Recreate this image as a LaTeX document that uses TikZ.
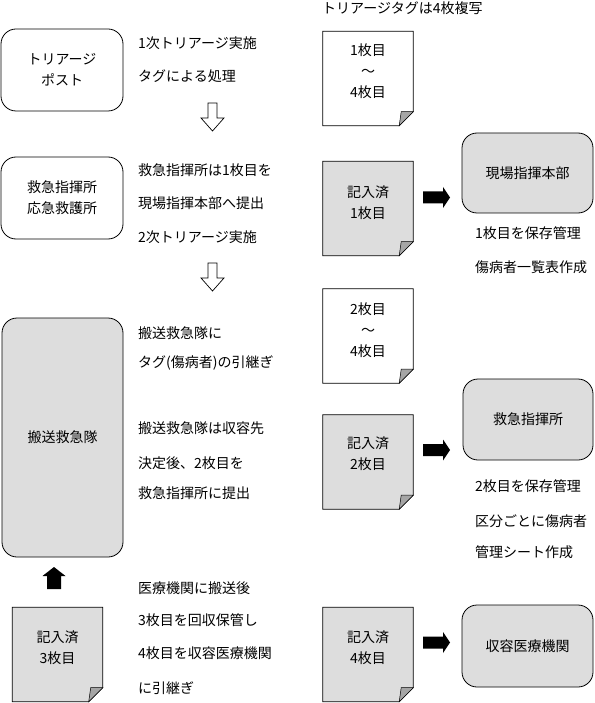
\documentclass[tikz,border=0pt]{standalone}
\usepackage{fontspec}
\setmainfont{Noto Sans CJK JP}
\definecolor{tagfill}{RGB}{221,221,221}
\definecolor{foldfill}{RGB}{165,165,165}

\begin{document}
\begin{tikzpicture}[x=1pt,y=-1pt,
    font=\fontsize{14}{21}\selectfont,
    station/.style={draw,line width=.8pt,rounded corners=15pt,align=center,
      minimum width=122pt,minimum height=82pt,inner sep=0pt},
    sheet/.style={minimum width=90pt,minimum height=94pt,inner sep=0pt},
    remark/.style={anchor=west,inner sep=0pt},
    hollow/.style={draw,fill=white,line width=.7pt},
    blockarrow/.style={fill=black}]
  \useasboundingbox (0,0) rectangle (594,703);

  % stations
  \node[station] (post) at (62,70) {トリアージ\\ポスト};
  \node[station] (aid) at (62,198) {救急指揮所\\応急救護所};
  \node[station,fill=tagfill,minimum width=121pt,minimum height=239pt] (amb)
    at (62.5,437.5) {搬送救急隊};
  \node[station,fill=tagfill,minimum width=131pt,minimum height=80pt] (hq)
    at (527.5,173) {現場指揮本部};
  \node[station,fill=tagfill,minimum width=130pt,minimum height=81pt] (cmd)
    at (528,419.5) {救急指揮所};
  \node[station,fill=tagfill,minimum width=131pt,minimum height=82pt] (hosp)
    at (527.5,646) {収容医療機関};

  % tag sheets with folded corner
  \foreach \n/\pos/\c in {t14/{(368,78.5)}/white, f1/{(368,208.5)}/tagfill,
      t24/{(368,336)}/white, f2/{(368,462)}/tagfill,
      f3/{(57.5,654.5)}/tagfill, f4/{(368,654.5)}/tagfill}{
    \node[sheet] (\n) at \pos {};
    \draw[fill=\c,line width=.8pt] (\n.north west) -- (\n.north east)
      -- ([yshift=14pt]\n.south east) -- ([xshift=-14pt]\n.south east)
      -- (\n.south west) -- cycle;
    \filldraw[fill=foldfill,line width=.5pt] ([yshift=14pt]\n.south east)
      -- ([xshift=-12pt,yshift=14pt]\n.south east)
      -- ([xshift=-14pt]\n.south east) -- cycle;
  }
  \node[align=center] (t14txt) at ([yshift=7pt]t14.center) {1枚目\\〜\\4枚目};
  \node[align=center] (t24txt) at ([yshift=6pt]t24.center) {2枚目\\〜\\4枚目};
  \node[align=center] (f1txt) at ([yshift=6pt]f1.center) {記入済\\1枚目};
  \node[align=center] (f2txt) at ([yshift=8pt]f2.center) {記入済\\2枚目};
  \node[align=center] (f3txt) at ([yshift=7pt]f3.center) {記入済\\3枚目};
  \node[align=center] (f4txt) at ([yshift=7pt]f4.center) {記入済\\4枚目};

  \node[remark] (title) at (322,8) {トリアージタグは4枚複写};

  % left column notes
  \foreach \y/\t [count=\i] in {43/1次トリアージ実施, 76/タグによる処理,
      170/救急指揮所は1枚目を, 203/現場指揮本部へ提出, 237/2次トリアージ実施,
      333/搬送救急隊に, 363/タグ(傷病者)の引継ぎ,
      428/搬送救急隊は収容先, 463/決定後、2枚目を, 493/救急指揮所に提出,
      588/医療機関に搬送後, 620/3枚目を回収保管し, 653/4枚目を収容医療機関,
      688/に引継ぎ}
    \node[remark] (l\i) at (138,\y) {\t};

  % right column notes
  \foreach \y/\t [count=\i] in {233/1枚目を保存管理, 267/傷病者一覧表作成,
      486/2枚目を保存管理, 521/区分ごとに傷病者, 552/管理シート作成}
    \node[remark] (r\i) at (475,\y) {\t};

  % arrows
  \foreach \y in {103,263}
    \draw[hollow] (208,\y) -- ++(9,0) -- ++(0,15) -- ++(7,0) -- ++(-11.5,13)
      -- ++(-11.5,-13) -- ++(7,0) -- cycle;
  \foreach \y in {197.5,450,642.5}
    \fill[blockarrow] (423,\y-6) -- ++(20,0) -- ++(0,-4.5) -- ++(7,10.5)
      -- ++(-7,10.5) -- ++(0,-4.5) -- ++(-20,0) -- cycle;
  \fill[blockarrow] (54,567) -- (65.5,576) -- (61,576) -- (61,589) -- (47,589)
    -- (47,576) -- (42.5,576) -- cycle;
\end{tikzpicture}
\end{document}
